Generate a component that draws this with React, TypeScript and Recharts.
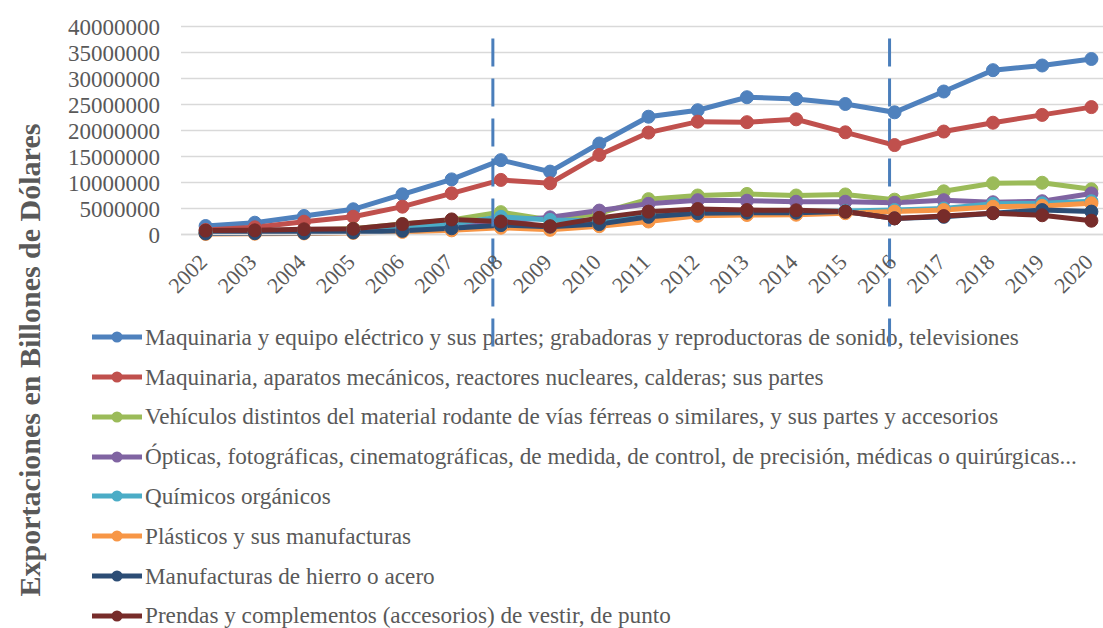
import React from "react";
import {
  LineChart,
  Line,
  XAxis,
  YAxis,
  CartesianGrid,
  ReferenceLine,
} from "recharts";

const years = [
  "2002", "2003", "2004", "2005", "2006", "2007", "2008", "2009", "2010", "2011",
  "2012", "2013", "2014", "2015", "2016", "2017", "2018", "2019", "2020",
];

const maquinariaElectrica = [
  1630000, 2270000, 3560000, 4850000, 7730000, 10600000, 14300000, 12100000, 17500000, 22650000,
  23900000, 26400000, 26050000, 25100000, 23500000, 27500000, 31600000, 32500000, 33750000,
];
const maquinariaMecanica = [
  870000, 1380000, 2460000, 3420000, 5350000, 7920000, 10500000, 9850000, 15300000, 19600000,
  21700000, 21600000, 22150000, 19650000, 17200000, 19800000, 21500000, 23000000, 24500000,
];
const vehiculos = [
  400000, 500000, 800000, 1100000, 2000000, 2800000, 4300000, 2800000, 4100000, 6800000,
  7500000, 7800000, 7500000, 7700000, 6700000, 8300000, 9850000, 9950000, 8700000,
];
const opticas = [
  300000, 400000, 600000, 800000, 1400000, 1900000, 2500000, 3300000, 4600000, 5900000,
  6600000, 6500000, 6300000, 6300000, 6100000, 6600000, 6200000, 6400000, 7900000,
];
const quimicos = [
  300000, 400000, 600000, 800000, 1300000, 2000000, 3400000, 2800000, 2650000, 3900000,
  4400000, 4400000, 4400000, 4500000, 4700000, 5000000, 5900000, 6000000, 6400000,
];
const plasticos = [
  100000, 150000, 200000, 300000, 500000, 800000, 1300000, 900000, 1600000, 2500000,
  3600000, 3750000, 3800000, 4100000, 4400000, 4700000, 5350000, 5500000, 6000000,
];
const hierroAcero = [
  200000, 250000, 300000, 400000, 700000, 1200000, 1800000, 1500000, 2000000, 3400000,
  4100000, 4200000, 4200000, 4400000, 3100000, 3400000, 4100000, 4700000, 4400000,
];
const prendas = [
  750000, 800000, 1000000, 1100000, 2000000, 2900000, 2500000, 1600000, 3200000, 4400000,
  4900000, 4700000, 4650000, 4400000, 3100000, 3550000, 4100000, 3700000, 2650000,
];

const yTicks = [0, 5000000, 10000000, 15000000, 20000000, 25000000, 30000000, 35000000, 40000000];
const markedYears = ["2008", "2016"];

const series = [
  { key: "s1", name: "Maquinaria y equipo eléctrico y sus partes; grabadoras y reproductoras de sonido, televisiones", color: "#4F81BD", values: maquinariaElectrica },
  { key: "s2", name: "Maquinaria, aparatos mecánicos, reactores nucleares, calderas; sus partes", color: "#C0504D", values: maquinariaMecanica },
  { key: "s3", name: "Vehículos distintos del material rodante de vías férreas o similares, y sus partes y accesorios", color: "#9BBB59", values: vehiculos },
  { key: "s4", name: "Ópticas, fotográficas, cinematográficas, de medida, de control, de precisión, médicas o quirúrgicas...", color: "#8064A2", values: opticas },
  { key: "s5", name: "Químicos orgánicos", color: "#4BACC6", values: quimicos },
  { key: "s6", name: "Plásticos y sus manufacturas", color: "#F79646", values: plasticos },
  { key: "s7", name: "Manufacturas de hierro o acero", color: "#2C4D75", values: hierroAcero },
  { key: "s8", name: "Prendas y complementos (accesorios) de vestir, de punto", color: "#772C2A", values: prendas },
];

const data = years.map((year, i) => {
  const row: Record<string, any> = { year };
  series.forEach((s) => (row[s.key] = s.values[i]));
  return row;
});

const FONT = "'Liberation Serif', serif";
const GREY = "#595959";

const XTick = ({ x, y, payload }: any) => (
  <text
    x={x + 3}
    y={y + 27}
    transform={`rotate(-45 ${x + 3} ${y + 27})`}
    textAnchor="end"
    fill={GREY}
    fontSize={22}
    fontFamily={FONT}>
    {payload.value}
  </text>
);

// dashed marker lines sit a bit left of the category and run past the axis labels
const dashedShape = (shift: number) => (p: any) => {
  const top = Math.min(p.y1, p.y2);
  const bottom = Math.max(p.y1, p.y2);
  return (
    <line
      x1={p.x1 - shift}
      x2={p.x2 - shift}
      y1={top + 12}
      y2={bottom + 112}
      stroke="#4A7EBB"
      strokeWidth={3}
      strokeDasharray="28 12"
    />
  );
};

export default function App() {
  return (
    <div style={{ position: "relative", width: 1103, height: 628, overflow: "hidden", background: "#fff" }}>
      <style>{`body{margin:0;overflow:hidden}`}</style>

      <div
        style={{
          position: "absolute",
          left: 30,
          top: 360,
          transform: "translate(-50%, -50%) rotate(-90deg)",
          whiteSpace: "nowrap",
          fontFamily: FONT,
          fontWeight: "bold",
          fontSize: 30,
          color: GREY,
        }}>
        Exportaciones en Billones de Dólares
      </div>

      <div style={{ position: "absolute", left: 92, top: 317.4 }}>
        {series.map((s) => (
          <div key={s.key} style={{ display: "flex", alignItems: "center", height: 39.8 }}>
            <svg width={52} height={14} style={{ flex: "none" }}>
              <line x1={0} x2={50} y1={7} y2={7} stroke={s.color} strokeWidth={5} />
              <circle cx={25} cy={7} r={5.5} fill={s.color} />
            </svg>
            <span
              style={{
                fontFamily: FONT,
                fontSize: 23.2,
                color: GREY,
                whiteSpace: "nowrap",
                marginLeft: 1,
              }}>
              {s.name}
            </span>
          </div>
        ))}
      </div>

      <div style={{ position: "absolute", left: 0, top: 0, zIndex: 1 }}>
        <LineChart
          width={1125}
          height={628}
          data={data}
          style={{ overflow: "visible" }}
          margin={{ top: 26.5, right: 9, left: 0, bottom: 333.5 }}>
          <CartesianGrid vertical={false} stroke="#D9D9D9" strokeWidth={1.5} />
          <XAxis
            dataKey="year"
            padding={{ left: 24.6, right: 24.6 }}
            axisLine={{ stroke: "#D9D9D9", strokeWidth: 1.5 }}
            tickLine={false}
            tickSize={0}
            tick={<XTick />}
            interval={0}
            height={60}
          />
          <YAxis
            width={181}
            domain={[0, 40000000]}
            ticks={yTicks}
            interval={0}
            axisLine={false}
            tickLine={false}
            tickSize={0}
            tickMargin={21}
            tick={{ fill: GREY, fontSize: 23, fontFamily: FONT }}
          />
          {series.map((s) => (
            <Line
              key={s.key}
              dataKey={s.key}
              name={s.name}
              stroke={s.color}
              strokeWidth={5}
              dot={{ r: 6.5, fill: s.color, stroke: s.color, strokeWidth: 1 }}
              isAnimationActive={false}
            />
          ))}
          <ReferenceLine x={markedYears[0]} ifOverflow="visible" shape={dashedShape(8)} />
          <ReferenceLine x={markedYears[1]} ifOverflow="visible" shape={dashedShape(5)} />
        </LineChart>
      </div>
    </div>
  );
}
